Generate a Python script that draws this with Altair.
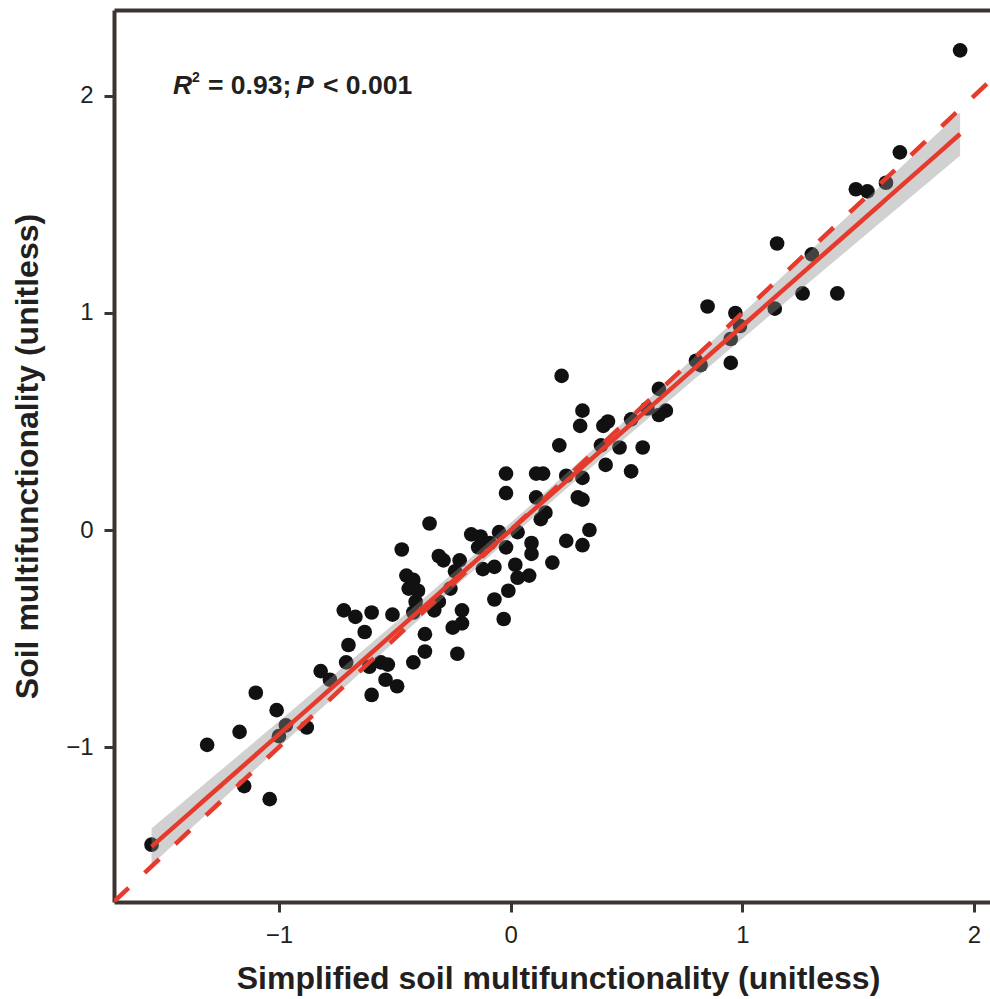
import altair as alt
import numpy as np
import pandas as pd

# Simplified soil multifunctionality (x) vs soil multifunctionality (y)
sim_x = [-1.55, -1.31, -1.17, -1.10, -1.01, -0.97, -1.00, -0.88, -1.15, -1.04,
         -0.82, -0.78, -0.71, -0.70, -0.72, -0.67, -0.63, -0.60, -0.51, -0.61,
         -0.56, -0.53, -0.54, -0.49, -0.60, -0.42, -0.37, -0.37, -0.41, -0.42,
         -0.47, -0.45, -0.42, -0.44, -0.40, -0.35, -0.31, -0.29, -0.22, -0.24,
         -0.26, -0.31, -0.33, -0.23, -0.25, -0.21, -0.21, -0.17, -0.13, -0.09,
         -0.14, -0.12, -0.07, -0.07, -0.05, 0.03, -0.02, 0.09, 0.09, 0.02,
         0.03, 0.08, -0.01, -0.03, 0.18, 0.24, 0.31, 0.34, 0.15, 0.13,
         0.29, 0.31, 0.22, 0.31, 0.30, 0.40, 0.42, 0.21, 0.39, 0.47,
         0.57, 0.41, 0.52, 0.52, 0.64, 0.67, 0.64, 0.59, 0.80, 0.82,
         -0.02, -0.02, 0.11, 0.14, 0.11, 0.24, 0.31, 0.95, 0.95, 0.99,
         0.97, 0.85, 1.14, 1.26, 1.41, 1.15, 1.30, 1.49, 1.54, 1.62,
         1.68, 1.94]
soil_y = [-1.45, -0.99, -0.93, -0.75, -0.83, -0.90, -0.95, -0.91, -1.18, -1.24,
          -0.65, -0.69, -0.61, -0.53, -0.37, -0.40, -0.47, -0.38, -0.39, -0.63,
          -0.61, -0.62, -0.69, -0.72, -0.76, -0.61, -0.56, -0.48, -0.33, -0.38,
          -0.09, -0.21, -0.23, -0.27, -0.28, 0.03, -0.12, -0.14, -0.14, -0.19,
          -0.27, -0.33, -0.37, -0.57, -0.45, -0.43, -0.37, -0.02, -0.03, -0.06,
          -0.08, -0.18, -0.17, -0.32, -0.01, -0.01, -0.08, -0.06, -0.11, -0.16,
          -0.22, -0.21, -0.28, -0.41, -0.15, -0.05, -0.07, 0.00, 0.08, 0.05,
          0.15, 0.14, 0.71, 0.55, 0.48, 0.48, 0.50, 0.39, 0.39, 0.38,
          0.38, 0.30, 0.27, 0.51, 0.65, 0.55, 0.53, 0.56, 0.78, 0.76,
          0.26, 0.17, 0.26, 0.26, 0.15, 0.25, 0.24, 0.88, 0.77, 0.94,
          1.00, 1.03, 1.02, 1.09, 1.09, 1.32, 1.27, 1.57, 1.56, 1.60,
          1.74, 2.21]

x_ticks = [-1, 0, 1, 2]
y_ticks = [-1, 0, 1, 2]
x_domain = [-1.712, 2.069]
y_domain = [-1.714, 2.396]
one_to_one = [-1.712, 2.2]

annotation = ["R", "2", "= 0.93;", "P", "< 0.001"]

# ---- linear fit with 95% confidence band (computed from the points) ----
xa = np.array(sim_x)
ya = np.array(soil_y)
n = len(xa)
b1, b0 = np.polyfit(xa, ya, 1)
resid = ya - (b0 + b1 * xa)
s = np.sqrt(np.sum(resid ** 2) / (n - 2))
sxx = np.sum((xa - xa.mean()) ** 2)
t = 1.98
gx = np.linspace(xa.min(), xa.max(), 80)
gy = b0 + b1 * gx
se = s * np.sqrt(1.0 / n + (gx - xa.mean()) ** 2 / sxx)
fit_df = pd.DataFrame({"fx": gx, "fy": gy, "lo": gy - t * se, "hi": gy + t * se})

pts_df = pd.DataFrame({"x": sim_x, "y": soil_y})
diag_df = pd.DataFrame({"d": one_to_one})

FRAME = "#3b3532"
TXT = "#231f20"
RED = "#e53a2c"
FONT = "Liberation Sans"

xs = alt.Scale(domain=x_domain, nice=False, zero=False)
ys = alt.Scale(domain=y_domain, nice=False, zero=False)

x_axis = alt.Axis(values=x_ticks, title="Simplified soil multifunctionality (unitless)",
                  grid=False, domainColor=FRAME, domainWidth=4, tickColor=FRAME,
                  tickWidth=3, tickSize=10, labelFont=FONT, labelFontSize=24,
                  labelColor=TXT, labelPadding=11, labelBaseline="top",
                  titleFont=FONT, titleFontSize=32, titleFontWeight="bold",
                  titleColor=TXT, titleX=444, titleY=86, titleBaseline="alphabetic",
                  titleAlign="center")
y_axis = alt.Axis(values=y_ticks, title="Soil multifunctionality (unitless)",
                  grid=False, domainColor=FRAME, domainWidth=4, tickColor=FRAME,
                  tickWidth=3, tickSize=10, labelFont=FONT, labelFontSize=24,
                  labelColor=TXT, labelPadding=11,
                  titleFont=FONT, titleFontSize=32, titleFontWeight="bold",
                  titleColor=TXT, titleX=-77, titleY=446, titleAngle=270,
                  titleBaseline="alphabetic", titleAlign="center")
top_axis = alt.Axis(orient="top", labels=False, ticks=False, title="", grid=False,
                    domainColor=FRAME, domainWidth=4)

points = alt.Chart(pts_df).mark_circle(size=215, color="#111111", opacity=1).encode(
    x=alt.X("x:Q", scale=xs, axis=x_axis),
    y=alt.Y("y:Q", scale=ys, axis=y_axis),
)
band = alt.Chart(fit_df).mark_area(color="#8c8c8c", opacity=0.4).encode(
    x=alt.X("fx:Q", scale=xs, axis=None),
    y=alt.Y("lo:Q", scale=ys, axis=None),
    y2="hi:Q",
)
fit = alt.Chart(fit_df).mark_line(color=RED, strokeWidth=4.5).encode(
    x=alt.X("fx:Q", scale=xs, axis=None),
    y=alt.Y("fy:Q", scale=ys, axis=None),
)
diag = alt.Chart(diag_df).mark_line(color=RED, strokeWidth=4.5, strokeDash=[20, 22],
                                     clip=True).encode(
    x=alt.X("d:Q", scale=xs, axis=top_axis),
    y=alt.Y("d:Q", scale=ys, axis=None),
)

def piece(txt, xpx, ypx, size, italic=False):
    return alt.Chart(pd.DataFrame({"t": [txt]})).mark_text(
        font=FONT, fontSize=size, fontWeight="bold",
        fontStyle="italic" if italic else "normal",
        align="left", baseline="alphabetic", color=TXT,
    ).encode(x=alt.value(xpx), y=alt.value(ypx), text="t:N")

labels = [
    piece(annotation[0], 59, 84, 26.5, italic=True),
    piece(annotation[1], 78, 72, 14),
    piece(annotation[2], 94, 84, 26.5),
    piece(annotation[3], 182, 84, 26.5, italic=True),
    piece(annotation[4], 209, 84, 26.5),
]

chart = alt.layer(points, band, fit, diag, *labels).resolve_axis(
    x="independent", y="independent"
).properties(
    width=876, height=892,
    padding={"left": 114, "top": 10, "right": 0, "bottom": 97},
    autosize=alt.AutoSizeParams(type="none"),
    background="white",
).configure_view(strokeWidth=0)

chart.save("out.html", embed_options={"renderer": "svg", "actions": False})
